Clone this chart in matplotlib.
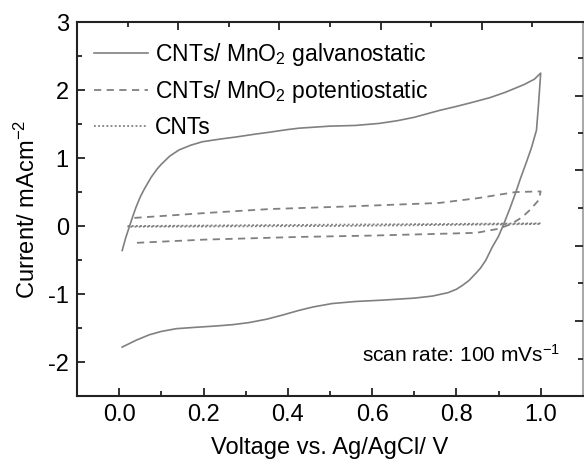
import numpy as np
import matplotlib
matplotlib.use('Agg')
import matplotlib.pyplot as plt

plt.rcParams['font.family'] = ['Liberation Sans', 'DejaVu Sans']
plt.rcParams['mathtext.default'] = 'regular'

# galvanostatic CNTs/MnO2 loop: anodic sweep then cathodic sweep
galv_fwd_x = [0.007, 0.015, 0.024, 0.032, 0.04, 0.05, 0.06, 0.076, 0.09, 0.10,
              0.12, 0.142, 0.17, 0.197, 0.24, 0.277, 0.32, 0.356, 0.40, 0.427,
              0.50, 0.56, 0.617, 0.66, 0.70, 0.759, 0.80, 0.838, 0.88, 0.917,
              0.96, 0.985, 1.0]
galv_fwd_y = [-0.36, -0.18, -0.01, 0.14, 0.28, 0.43, 0.55, 0.72, 0.84, 0.91,
              1.03, 1.12, 1.19, 1.24, 1.28, 1.31, 1.35, 1.38, 1.42, 1.44,
              1.47, 1.48, 1.51, 1.55, 1.60, 1.70, 1.76, 1.82, 1.89, 1.97,
              2.08, 2.16, 2.25]
galv_rev_x = [1.0, 0.995, 0.99, 0.978, 0.965, 0.952, 0.94, 0.927, 0.913, 0.90,
              0.885, 0.87, 0.857, 0.847, 0.83, 0.815, 0.80, 0.78, 0.743, 0.70,
              0.624, 0.56, 0.505, 0.46, 0.427, 0.387, 0.35, 0.308, 0.27, 0.23,
              0.18, 0.135, 0.10, 0.071, 0.04, 0.007]
galv_rev_y = [2.25, 1.80, 1.41, 1.15, 0.92, 0.70, 0.48, 0.26, 0.04, -0.15,
              -0.31, -0.50, -0.62, -0.69, -0.80, -0.87, -0.93, -0.98, -1.03, -1.06,
              -1.09, -1.11, -1.14, -1.19, -1.24, -1.31, -1.37, -1.42, -1.45, -1.47,
              -1.49, -1.51, -1.55, -1.60, -1.68, -1.78]

# potentiostatic CNTs/MnO2 loop
pot_fwd_x = [0.036, 0.2, 0.356, 0.55, 0.759, 0.85, 0.94, 1.0]
pot_fwd_y = [0.12, 0.19, 0.25, 0.29, 0.34, 0.41, 0.50, 0.51]
pot_rev_x = [1.0, 0.995, 0.975, 0.956, 0.93, 0.9, 0.847, 0.6, 0.427, 0.2, 0.03]
pot_rev_y = [0.51, 0.38, 0.24, 0.13, 0.03, -0.04, -0.10, -0.14, -0.16, -0.20, -0.25]

# bare CNTs loop
cnt_fwd_x = [0.02, 0.5, 1.0]
cnt_fwd_y = [0.0, 0.02, 0.04]
cnt_rev_x = [1.0, 0.5, 0.02]
cnt_rev_y = [0.03, 0.0, -0.01]

labels = ['CNTs/ MnO$_2$ galvanostatic', 'CNTs/ MnO$_2$ potentiostatic', 'CNTs']

top_major = [0.14, 0.38, 0.62, 0.86]
top_minor = [0.02, 0.26, 0.50, 0.74, 0.98]
right_major = [1.92, 0.82, -0.29, -1.40]
right_minor = [2.47, 1.37, 0.27, -0.84, -1.95]

gray = '#808080'
dark = '#222222'

fig = plt.figure(figsize=(5.84, 4.61), dpi=100)
ax = fig.add_axes([0.132, 0.141, 0.866, 0.811])

ax.plot(galv_fwd_x + galv_rev_x, galv_fwd_y + galv_rev_y, color=gray, lw=1.2,
        label=labels[0])
ax.plot(pot_fwd_x + pot_rev_x, pot_fwd_y + pot_rev_y, color=gray, lw=1.3,
        dashes=(4, 3), label=labels[1])
ax.plot(cnt_fwd_x + cnt_rev_x, cnt_fwd_y + cnt_rev_y, color=gray, lw=1.3,
        dashes=(1, 1.3), label=labels[2])

ax.set_xlim(-0.1, 1.1)
ax.set_ylim(-2.5, 3)
ax.set_xticks([0.0, 0.2, 0.4, 0.6, 0.8, 1.0])
ax.set_xticks([0.1, 0.3, 0.5, 0.7, 0.9], minor=True)
ax.set_yticks([-2, -1, 0, 1, 2, 3])
ax.set_yticks([-2.5, -1.5, -0.5, 0.5, 1.5, 2.5], minor=True)
ax.set_xticklabels(['0.0', '0.2', '0.4', '0.6', '0.8', '1.0'])
ax.set_yticklabels(['-2', '-1', '0', '1', '2', '3'])
ax.tick_params(which='both', direction='in', labelsize=17, color=dark, width=1.3,
               top=False, right=False)
ax.tick_params(which='major', length=6, pad=6)
ax.tick_params(which='minor', length=3.5)
for s in ax.spines.values():
    s.set_color(dark)
    s.set_linewidth(1.5)

# independent tick rows on the top and right frame
axt = ax.twiny()
axt.set_xlim(ax.get_xlim())
axt.set_xticks(top_major)
axt.set_xticks(top_minor, minor=True)
axt.tick_params(which='both', direction='in', labeltop=False, color=dark, width=1.3)
axt.tick_params(which='major', length=6)
axt.tick_params(which='minor', length=3.5)
axr = ax.twinx()
axr.set_ylim(ax.get_ylim())
axr.set_yticks(right_major)
axr.set_yticks(right_minor, minor=True)
axr.tick_params(which='both', direction='in', labelright=False, color=dark, width=1.3)
axr.tick_params(which='major', length=6)
axr.tick_params(which='minor', length=3.5)
for a in (axt, axr):
    for s in a.spines.values():
        s.set_visible(False)
ax.spines['right'].set_color('#aaaaaa')

ax.set_xlabel('Voltage vs. Ag/AgCl/ V', fontsize=17, labelpad=8)
ax.set_ylabel('Current/ mAcm$^{-2}$', fontsize=17, labelpad=6)

ax.legend(loc='upper left', bbox_to_anchor=(0.0, 0.995), frameon=False, fontsize=16.5,
          handlelength=2.35, handletextpad=0.3, labelspacing=0.45, borderpad=0.5,
          borderaxespad=0.25)
ax.text(0.955, 0.11, 'scan rate: 100 mVs$^{-1}$', transform=ax.transAxes,
        fontsize=15, ha='right', va='center')

fig.savefig('out.png', dpi=100)
